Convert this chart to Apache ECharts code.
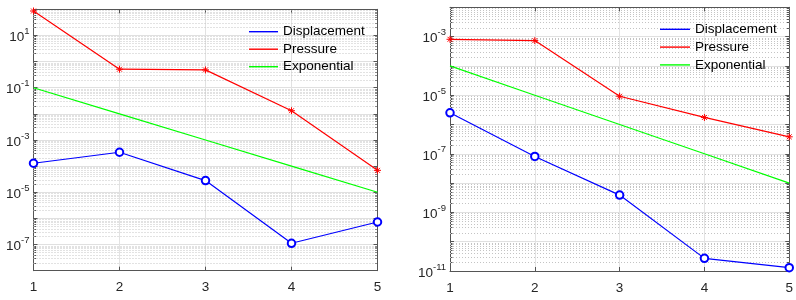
<!DOCTYPE html>
<html><head><meta charset="utf-8">
<script src="https://cdn.jsdelivr.net/npm/echarts@6/dist/echarts.min.js"></script>
<style>html,body{margin:0;padding:0;background:#fff}#c{width:796px;height:300px}</style>
</head><body><div id="c"></div>
<script>
const xValues = [1, 2, 3, 4, 5];
const seriesNames = ['Displacement', 'Pressure', 'Exponential'];
const leftDisplacement = [1.29e-4, 3.4e-4, 2.8e-5, 1.12e-7, 7.3e-7];
const leftPressure = [86, 0.51, 0.48, 0.0132, 6.9e-5];
const leftExponential = [1e-1, 1e-2, 1e-3, 1e-4, 1e-5];
const rightDisplacement = [2.5e-6, 8.1e-8, 3.9e-9, 2.7e-11, 1.3e-11];
const rightPressure = [8.1e-4, 7.3e-4, 9.2e-6, 1.74e-6, 3.8e-7];
const rightExponential = [1e-4, 1e-5, 1e-6, 1e-7, 1e-8];
const leftYRange = [1e-8, 1e2];
const rightYRange = [1e-11, 1e-2];

const FONT = 'Liberation Sans';
const AXIS_COLOR = '#555555';
const TEXT_COLOR = '#262626';
const COLORS = ['#0000ff', '#ff0000', '#00ff00'];
const STAR = 'path://M5,0L5,10M0,5L10,5M1.5,1.5L8.5,8.5M1.5,8.5L8.5,1.5';

function minorValues(range) {
  const out = [];
  const k0 = Math.round(Math.log10(range[0])), k1 = Math.round(Math.log10(range[1]));
  for (let k = k0; k < k1; k++) for (let m = 2; m <= 9; m++) out.push(+(m * Math.pow(10, k)).toPrecision(6));
  return out;
}
function pairs(vals) { return xValues.map((x, i) => [x, vals[i]]); }

const grids = [
  { left: 33.5, top: 9.3, width: 344, height: 261.4 },
  { left: 450, top: 7.3, width: 340, height: 263.7 }
];

const xAxis = [], yAxis = [];
[0, 1].forEach(g => {
  ['bottom', 'top'].forEach(pos => {
    xAxis.push({
      type: 'value', gridIndex: g, position: pos, min: 1, max: 5, interval: 1,
      axisLine: { show: true, lineStyle: { color: AXIS_COLOR, width: 1 } },
      axisTick: { show: true, inside: true, length: 4, lineStyle: { color: AXIS_COLOR } },
      axisLabel: { show: pos === 'bottom', color: TEXT_COLOR, fontFamily: FONT, fontSize: 13.5, margin: 10 },
      splitLine: { show: pos === 'bottom', lineStyle: { color: '#e2e2e2', width: 1 } }
    });
  });
  const range = g === 0 ? leftYRange : rightYRange;
  ['left', 'right'].forEach(pos => {
    yAxis.push({
      type: 'log', logBase: 10, gridIndex: g, position: pos, min: range[0], max: range[1], interval: 1,
      axisLine: { show: true, lineStyle: { color: AXIS_COLOR, width: 1 } },
      axisTick: { show: true, inside: true, length: 4, lineStyle: { color: AXIS_COLOR } },
      axisLabel: {
        show: pos === 'left', margin: 4, fontFamily: FONT, color: TEXT_COLOR,
        formatter: v => {
          const e = Math.round(Math.log10(v));
          if (Math.abs(e % 2) !== 1) return '';
          return '{b|10}{s|' + e + '}';
        },
        rich: {
          b: { fontSize: 13.5, fontFamily: FONT, color: TEXT_COLOR, lineHeight: 13, verticalAlign: 'bottom' },
          s: { fontSize: 9.5, fontFamily: FONT, color: TEXT_COLOR, verticalAlign: 'top', padding: [0, 0, 8, 0] }
        }
      },
      splitLine: { show: pos === 'left', lineStyle: { color: '#e0e0e0', width: 1 } }
    });
    yAxis.push({
      type: 'log', logBase: 10, gridIndex: g, position: pos, min: range[0], max: range[1],
      axisLine: { show: false },
      axisTick: { show: true, inside: true, length: 2.5, customValues: minorValues(range), lineStyle: { color: AXIS_COLOR } },
      axisLabel: { show: false },
      splitLine: { show: false }
    });
  });
});

function makeSeries(g, disp, pres, expo) {
  const xi = g * 2, yi = g * 4;
  return [
    {
      name: 'minor' + g, type: 'line', xAxisIndex: xi, yAxisIndex: yi, data: [], silent: true, z: 1,
      markLine: {
        silent: true, symbol: ['none', 'none'], animation: false, z: 1, precision: 20,
        label: { show: false },
        lineStyle: { type: [1, 2], color: '#c4c4c4', width: 1 },
        data: minorValues(g === 0 ? leftYRange : rightYRange).map(v => [{ coord: [xValues[0], v] }, { coord: [xValues[xValues.length - 1], v] }])
      }
    },
    {
      name: seriesNames[2], type: 'line', xAxisIndex: xi, yAxisIndex: yi, data: pairs(expo), z: 3,
      symbol: 'none', lineStyle: { color: COLORS[2], width: 1.2 }, itemStyle: { color: COLORS[2] }
    },
    {
      name: seriesNames[1], type: 'line', xAxisIndex: xi, yAxisIndex: yi, data: pairs(pres), z: 4,
      symbol: STAR, symbolSize: 7, lineStyle: { color: COLORS[1], width: 1.2 },
      itemStyle: { color: COLORS[1], borderColor: COLORS[1], borderWidth: 1 }
    },
    {
      name: seriesNames[0], type: 'line', xAxisIndex: xi, yAxisIndex: yi, data: pairs(disp), z: 5,
      symbol: 'emptyCircle', symbolSize: 7.5, lineStyle: { color: COLORS[0], width: 1.2 },
      itemStyle: { color: COLORS[0], borderColor: COLORS[0], borderWidth: 0.8 }
    }
  ];
}

const legendCommon = {
  orient: 'vertical', data: seriesNames, icon: 'rect', itemHeight: 1.4, padding: 0,
  selectedMode: false,
  itemStyle: { borderWidth: 0 },
  textStyle: { fontFamily: FONT, fontSize: 13.5, color: '#000', lineHeight: 14 }
};

const chart = echarts.init(document.getElementById('c'), null, { renderer: 'canvas' });
chart.setOption({
  animation: false,
  backgroundColor: '#ffffff',
  grid: grids,
  xAxis: xAxis,
  yAxis: yAxis,
  legend: [
    Object.assign({}, legendCommon, { left: 249, top: 24.7, itemWidth: 29, itemGap: 3.5 }),
    Object.assign({}, legendCommon, { left: 660, top: 22.3, itemWidth: 30, itemGap: 3.8 })
  ],
  series: makeSeries(0, leftDisplacement, leftPressure, leftExponential)
    .concat(makeSeries(1, rightDisplacement, rightPressure, rightExponential))
});
</script>
</body></html>
